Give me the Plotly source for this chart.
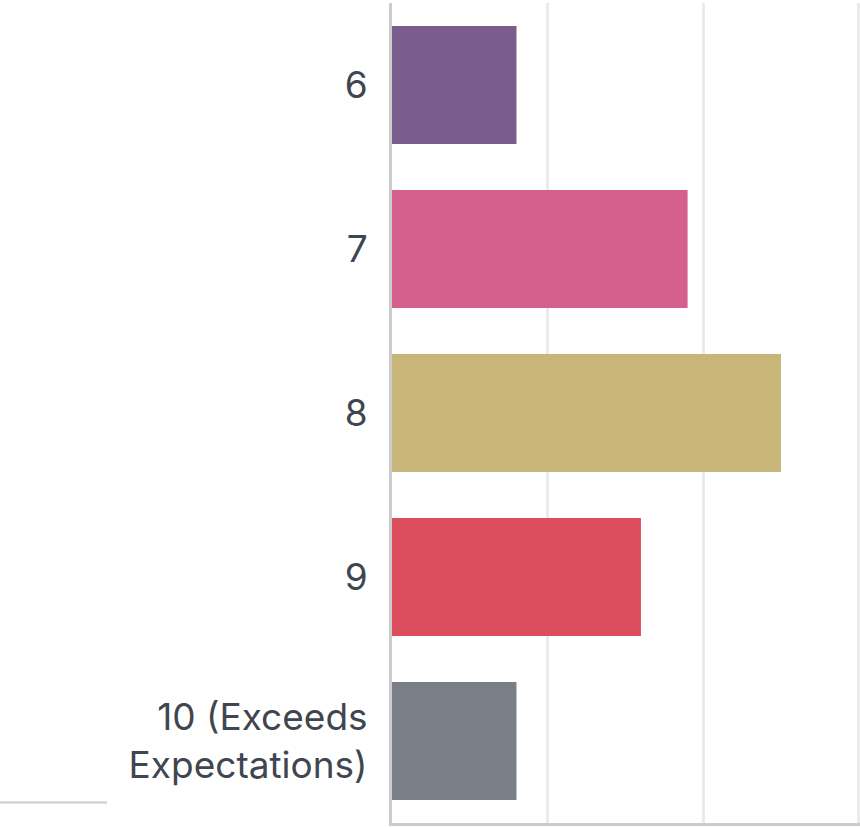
import plotly.graph_objects as go

categories = ["6", "7", "8", "9", "10 (Exceeds<br>Expectations)"]
values = [8, 19, 25, 16, 8]
colors = ["#7b5d8d", "#d45f8f", "#c8b679", "#dc4d5e", "#787f87"]

fig = go.Figure(go.Bar(
    y=categories, x=values, orientation="h",
    marker=dict(color=colors, line=dict(width=0)),
    hoverinfo="skip",
))

W, H = 860, 827
L, R, T, B = 392, 0, 3, 4
pw = W - L - R
ph = H - T - B

fig.update_layout(
    width=W, height=H,
    margin=dict(l=L, r=R, t=T, b=B, pad=0),
    paper_bgcolor="white", plot_bgcolor="white",
    showlegend=False,
    bargap=0.28,
    font=dict(family="Inter, Lato, sans-serif", color="#3f4650"),
    xaxis=dict(range=[0, 30.08], dtick=10, tick0=0, showgrid=True, gridcolor="#ebebeb",
               gridwidth=3, zeroline=False, showticklabels=False, ticks="",
               showline=True, linecolor="#cccccc", linewidth=3, fixedrange=True),
    yaxis=dict(autorange="reversed", showgrid=False, zeroline=False,
               showline=True, linecolor="#cccccc", linewidth=3, ticks="",
               ticklabelstandoff=14, tickfont=dict(size=37, color="#3f4650"),
               fixedrange=True),
    shapes=[dict(type="line", xref="paper", yref="paper",
                 x0=-L / pw, x1=(107 - L) / pw,
                 y0=(H - B - 802.5) / ph, y1=(H - B - 802.5) / ph,
                 line=dict(color="#cccccc", width=2))],
)

fig.write_html("out.html", config=dict(displayModeBar=False),
               post_script="document.body.style.margin='0';document.body.style.overflow='hidden';")
